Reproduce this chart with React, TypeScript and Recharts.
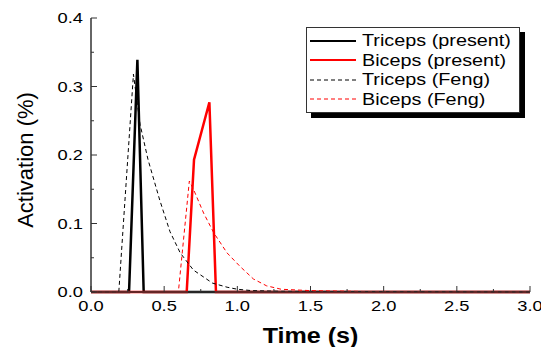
import { Line, LineChart, XAxis, YAxis } from "recharts";

const tricepsPresent = [
  { t: 0, v: 0 }, { t: 0.26, v: 0 }, { t: 0.317, v: 0.339 }, { t: 0.36, v: 0 }, { t: 3, v: 0 },
];
const bicepsPresent = [
  { t: 0, v: 0 }, { t: 0.654, v: 0 }, { t: 0.704, v: 0.193 }, { t: 0.809, v: 0.277 }, { t: 0.854, v: 0 }, { t: 3, v: 0 },
];
const tricepsFeng = [
  { t: 0, v: 0 }, { t: 0.19, v: 0 }, { t: 0.29, v: 0.318 }, { t: 0.335, v: 0.245 }, { t: 0.39, v: 0.193 },
  { t: 0.47, v: 0.134 }, { t: 0.54, v: 0.088 }, { t: 0.61, v: 0.057 }, { t: 0.7, v: 0.032 }, { t: 0.83, v: 0.013 },
  { t: 0.93, v: 0.007 }, { t: 1.0, v: 0.004 }, { t: 1.1, v: 0.002 }, { t: 1.3, v: 0.001 }, { t: 3, v: 0 },
];
const bicepsFeng = [
  { t: 0, v: 0 }, { t: 0.597, v: 0 }, { t: 0.672, v: 0.162 }, { t: 0.7, v: 0.15 }, { t: 0.77, v: 0.115 },
  { t: 0.84, v: 0.086 }, { t: 0.93, v: 0.057 }, { t: 1.02, v: 0.037 }, { t: 1.11, v: 0.019 }, { t: 1.2, v: 0.009 },
  { t: 1.3, v: 0.004 }, { t: 1.5, v: 0.002 }, { t: 1.8, v: 0.001 }, { t: 2.0, v: 0 }, { t: 3, v: 0 },
];

const xTicks = [0, 0.25, 0.5, 0.75, 1, 1.25, 1.5, 1.75, 2, 2.25, 2.5, 2.75, 3];
const yTicks = [0, 0.05, 0.1, 0.15, 0.2, 0.25, 0.3, 0.35, 0.4];

const series = [
  { name: "Triceps (present)", data: tricepsPresent, color: "#000", width: 2.5, dash: undefined },
  { name: "Biceps (present)", data: bicepsPresent, color: "#ff0000", width: 2.5, dash: undefined },
  { name: "Triceps (Feng)", data: tricepsFeng, color: "#000", width: 1, dash: "4 3" },
  { name: "Biceps (Feng)", data: bicepsFeng, color: "#ff0000", width: 1, dash: "4 3" },
];

const font = "'Liberation Sans', Arial, sans-serif";
const axisColor = "#333";

function XTick({ x, y, payload }: any) {
  const major = Math.abs(payload.value * 2 - Math.round(payload.value * 2)) < 1e-6;
  return (
    <g>
      <line x1={x} x2={x} y1={y} y2={y - (major ? 6 : 3)} stroke={axisColor} strokeWidth={1} />
      {major && (
        <text transform={`translate(${x},${y + 19}) scale(1.22,1)`} textAnchor="middle" fontSize={15} fontFamily={font} fill="#000">
          {payload.value.toFixed(1)}
        </text>
      )}
    </g>
  );
}

function YTick({ x, y, payload }: any) {
  const major = Math.abs(payload.value * 10 - Math.round(payload.value * 10)) < 1e-6;
  return (
    <g>
      <line x1={x} x2={x + (major ? 6 : 3)} y1={y} y2={y} stroke={axisColor} strokeWidth={1} />
      {major && (
        <text transform={`translate(${x - 8},${y + 5}) scale(1.22,1)`} textAnchor="end" fontSize={15} fontFamily={font} fill="#000">
          {payload.value.toFixed(1)}
        </text>
      )}
    </g>
  );
}

function XLabel({ viewBox }: any) {
  const cx = viewBox.x + viewBox.width / 2;
  return (
    <text transform={`translate(${cx},${viewBox.y + 51}) scale(1.14,1)`} textAnchor="middle" fontSize={22} fontWeight="bold" fontFamily={font} fill="#000">
      Time (s)
    </text>
  );
}

function YLabel({ viewBox }: any) {
  const cy = viewBox.y + viewBox.height / 2;
  return (
    <text transform={`translate(33,${cy + 5}) rotate(-90)`} textAnchor="middle" fontSize={22} fontFamily={font} fill="#000">
      Activation (%)
    </text>
  );
}

function LegendBox() {
  return (
    <div style={{ position: "absolute", left: 306, top: 27, width: 209, border: `1px solid ${axisColor}`, background: "#fff", boxShadow: "5px 5px 0 #000", padding: "3px 0 3px 3px", fontFamily: font, fontSize: 16.5 }}>
      {series.map((s) => (
        <div key={s.name} style={{ display: "flex", alignItems: "center", height: 19.5 }}>
          <svg width={48} height={10}>
            <line x1={0} x2={46} y1={5} y2={5} stroke={s.color} strokeWidth={s.dash ? 1 : 2} strokeDasharray={s.dash} />
          </svg>
          <span style={{ display: "inline-block", marginLeft: 4, transform: "scaleX(1.2)", transformOrigin: "left center", whiteSpace: "nowrap" }}>
            {s.name}
          </span>
        </div>
      ))}
    </div>
  );
}

export default function App() {
  return (
    <div style={{ position: "absolute", left: 0, top: 0, width: 541, height: 347, background: "#fff" }}>
      <LineChart width={541} height={347} margin={{ top: 18, right: 11, left: 0, bottom: 0 }}>
        <XAxis dataKey="t" type="number" domain={[0, 3]} ticks={xTicks} interval={0} height={55}
          tick={<XTick />} tickLine={false} tickSize={0} tickMargin={0}
          axisLine={{ stroke: axisColor, strokeWidth: 1.5 }} allowDuplicatedCategory={false}
          label={<XLabel />} />
        <XAxis xAxisId="top" orientation="top" type="number" domain={[0, 3]} height={0} tick={false} tickLine={false} axisLine={{ stroke: axisColor, strokeWidth: 1.5 }} />
        <YAxis dataKey="v" type="number" domain={[0, 0.4]} ticks={yTicks} interval={0} width={91}
          tick={<YTick />} tickLine={false} tickSize={0} tickMargin={0}
          axisLine={{ stroke: axisColor, strokeWidth: 1.5 }}
          label={<YLabel />} />
        <YAxis yAxisId="right" orientation="right" type="number" domain={[0, 0.4]} width={0} tick={false} tickLine={false} axisLine={{ stroke: axisColor, strokeWidth: 1.5 }} />
        {series.map((s) => (
          <Line key={s.name} data={s.data} dataKey="v" name={s.name} type="linear" stroke={s.color}
            strokeWidth={s.width} strokeDasharray={s.dash} dot={false} activeDot={false} isAnimationActive={false} />
        ))}
      </LineChart>
      <LegendBox />
    </div>
  );
}
